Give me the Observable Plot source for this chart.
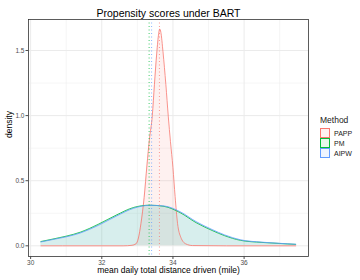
<!DOCTYPE html>
<html>
<head>
<meta charset="utf-8">
<script src="https://cdn.jsdelivr.net/npm/d3@7"></script>
<script src="https://cdn.jsdelivr.net/npm/@observablehq/plot@0.6"></script>
<style>
  body { margin: 0; background: white; }
  #wrap { position: relative; width: 360px; height: 280px; font-family: "Liberation Sans", Arial, sans-serif; }
  #legend { position: absolute; left: 320px; top: 115px; font-size: 7px; color: #1a1a1a; }
  #legend .ttl { font-size: 8.5px; margin-bottom: 3px; }
  #legend .row { display: flex; align-items: center; height: 10px; }
  #legend .key { width: 8px; height: 8px; border: 1px solid; box-sizing: content-box; margin-right: 4px; }
</style>
</head>
<body>
<div id="wrap"></div>
<script>
const title = "Propensity scores under BART";
const xLabel = "mean daily total distance driven (mile)";
const yLabel = "density";
const legendTitle = "Method";
const methods = ["PAPP", "PM", "AIPW"];
const colors = ["#F8766D", "#00BA38", "#619CFF"];

// PAPP density curve
const pappX = [30.29, 31.5, 32.6, 32.85, 32.96, 33.03, 33.10, 33.19, 33.27, 33.34, 33.42, 33.48, 33.545, 33.60, 33.63, 33.66, 33.72, 33.80, 33.87, 33.93, 34.00, 34.06, 34.13, 34.22, 34.36, 34.55, 35.5, 37.45];
const pappY = [0, 0, 0, 0.004, 0.015, 0.06, 0.17, 0.37, 0.62, 0.82, 1.00, 1.24, 1.48, 1.63, 1.665, 1.64, 1.49, 1.24, 0.99, 0.80, 0.60, 0.38, 0.17, 0.066, 0.015, 0.002, 0, 0];

// PM and AIPW density curves
const wideX = [30.29, 30.8, 31.0, 31.4, 31.9, 32.4, 32.9, 33.35, 33.75, 34.2, 34.65, 35.1, 35.45, 35.9, 36.5, 37.0, 37.45];
const pmY   = [0.033, 0.062, 0.074, 0.105, 0.165, 0.235, 0.295, 0.312, 0.303, 0.255, 0.178, 0.118, 0.078, 0.042, 0.026, 0.018, 0.011];
const aipwY = [0.030, 0.058, 0.069, 0.099, 0.157, 0.227, 0.289, 0.311, 0.306, 0.262, 0.186, 0.125, 0.084, 0.046, 0.028, 0.019, 0.012];

// Means (dotted lines)
const means = [33.62, 33.33, 33.40];

const xTicks = [30, 32, 34, 36];
const xMinor = [31, 33, 35, 37];
const yTicks = [0, 0.5, 1.0, 1.5];
const yMinor = [0.25, 0.75, 1.25];

const curves = [
  ...pappX.map((x, i) => ({method: "PAPP", x, y: pappY[i]})),
  ...wideX.map((x, i) => ({method: "PM", x, y: pmY[i]})),
  ...wideX.map((x, i) => ({method: "AIPW", x, y: aipwY[i]}))
];
const meanRows = methods.map((m, i) => ({method: m, x: means[i]}));

const chart = Plot.plot({
  width: 360,
  height: 280,
  marginLeft: 28,
  marginRight: 52,
  marginTop: 19,
  marginBottom: 24,
  x: {domain: [29.94, 37.81]},
  y: {domain: [-0.082, 1.738]},
  color: {domain: methods, range: colors},
  style: {fontFamily: "Liberation Sans, Arial, sans-serif", background: "white"},
  marks: [
    Plot.ruleX(xMinor, {stroke: "#ebebeb", strokeWidth: 0.5}),
    Plot.ruleY(yMinor, {stroke: "#ebebeb", strokeWidth: 0.5}),
    Plot.ruleX(xTicks, {stroke: "#ebebeb", strokeWidth: 1}),
    Plot.ruleY(yTicks, {stroke: "#ebebeb", strokeWidth: 1}),
    Plot.areaY(curves, {x: "x", y1: 0, y2: "y", fill: "method", fillOpacity: 0.1, curve: "monotone-x"}),
    Plot.lineY(curves, {x: "x", y: "y", stroke: "method", strokeWidth: 0.8, curve: "monotone-x"}),
    Plot.ruleX(meanRows, {x: "x", stroke: "method", strokeWidth: 1, strokeOpacity: 0.75, strokeDasharray: "1,2.5"}),
    Plot.frame({stroke: "#333", strokeWidth: 0.8}),
    Plot.axisX(xTicks, {tickSize: 3, tickPadding: 0.5, fontSize: 6.5, color: "#4d4d4d", label: null}),
    Plot.axisY(yTicks, {tickSize: 2.5, tickPadding: 1.5, fontSize: 6.5, color: "#4d4d4d", tickFormat: d => d.toFixed(1), label: null}),
    Plot.text([title], {text: d => d, frameAnchor: "top", dy: -10, fontSize: 10.5, fill: "black"}),
    Plot.text([xLabel], {text: d => d, frameAnchor: "bottom", dy: 16.5, fontSize: 8.5, fill: "black"}),
    Plot.text([yLabel], {text: d => d, frameAnchor: "left", dx: -19, rotate: -90, fontSize: 8.5, fill: "black"})
  ]
});

const wrap = document.getElementById("wrap");
wrap.appendChild(chart);

const legend = document.createElement("div");
legend.id = "legend";
const t = document.createElement("div");
t.className = "ttl";
t.textContent = legendTitle;
legend.appendChild(t);
methods.forEach((m, i) => {
  const row = document.createElement("div");
  row.className = "row";
  const key = document.createElement("div");
  key.className = "key";
  key.style.borderColor = colors[i];
  const c = d3.color(colors[i]); c.opacity = 0.1;
  key.style.background = c.formatRgb();
  const lab = document.createElement("span");
  lab.textContent = m;
  row.appendChild(key);
  row.appendChild(lab);
  legend.appendChild(row);
});
wrap.appendChild(legend);
</script>
</body>
</html>
